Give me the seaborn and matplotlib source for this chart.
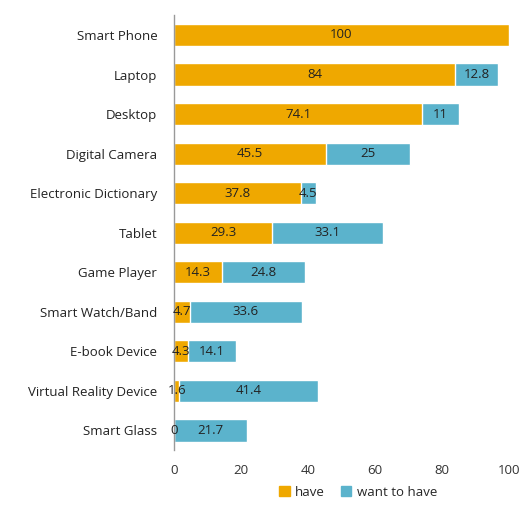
import matplotlib
matplotlib.use("Agg")
import matplotlib.pyplot as plt
import seaborn as sns
import pandas as pd
from matplotlib.patches import Patch

categories = ["Smart Phone", "Laptop", "Desktop", "Digital Camera", "Electronic Dictionary",
              "Tablet", "Game Player", "Smart Watch/Band", "E-book Device",
              "Virtual Reality Device", "Smart Glass"]
have = [100, 84, 74.1, 45.5, 37.8, 29.3, 14.3, 4.7, 4.3, 1.6, 0]
want = [0, 12.8, 11, 25, 4.5, 33.1, 24.8, 33.6, 14.1, 41.4, 21.7]
xticks = [0, 20, 40, 60, 80, 100]

orange = "#EFA800"
blue = "#5BB3CC"

df = pd.DataFrame({"category": categories, "have": have, "want": want})
df["total"] = df["have"] + df["want"]

sns.set_theme(style="white")
plt.rcParams["font.family"] = ["Open Sans", "DejaVu Sans"]

fig = plt.figure(figsize=(5.24, 5.07), dpi=100)
ax = fig.add_axes([0.332, 0.112, 0.639, 0.858])

sns.barplot(data=df, y="category", x="total", color=blue, orient="h",
            width=0.56, saturation=1, ax=ax)
sns.barplot(data=df, y="category", x="have", color=orange, orient="h",
            width=0.56, saturation=1, ax=ax)

for i, (h, w) in enumerate(zip(have, want)):
    ax.text(h / 2, i, f"{h:g}", ha="center", va="center", fontsize=9.5, color="#222222")
    if w > 0:
        ax.text(h + w / 2, i, f"{w:g}", ha="center", va="center", fontsize=9.5, color="#222222")

ax.set_xlim(0, 100)
ax.set_ylim(10.5, -0.5)
ax.set_xticks(xticks)
ax.set_xticklabels([str(t) for t in xticks], fontsize=9.5, color="#333333")
ax.tick_params(axis="y", labelsize=9.5, colors="#222222", length=0, pad=12)
ax.tick_params(axis="x", length=0, pad=10)
ax.set_xlabel("")
ax.set_ylabel("")
for s in ["top", "right", "bottom"]:
    ax.spines[s].set_visible(False)
ax.spines["left"].set_color("#999999")
ax.spines["left"].set_linewidth(1)

handles = [Patch(color=orange, label="have"), Patch(color=blue, label="want to have")]
ax.legend(handles=handles, loc="upper center", bbox_to_anchor=(0.55, -0.06), ncol=2,
          frameon=False, fontsize=9.5, handlelength=0.8, handleheight=0.8,
          handletextpad=0.4, columnspacing=1.2, borderpad=0.2)

fig.savefig("out.png", dpi=100)
